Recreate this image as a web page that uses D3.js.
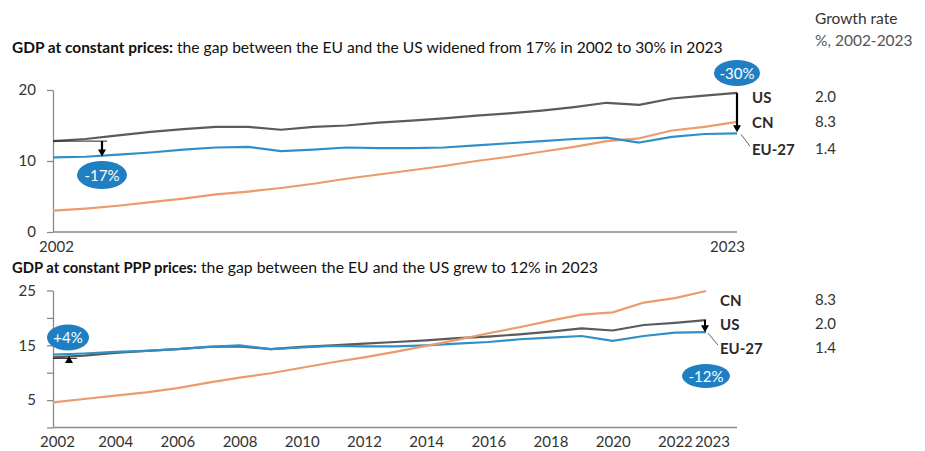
<!DOCTYPE html>
<html><head><meta charset="utf-8">
<script src="https://cdn.jsdelivr.net/npm/d3@7"></script>
<style>
body{margin:0;background:#fff;}
svg{font-family:Lato,"Open Sans",sans-serif;}
</style></head>
<body><svg id="c" width="925" height="451"></svg>
<script>
const years = d3.range(2002, 2024);
// GDP at constant prices (USD trillion)
const usConst = [12.8,13.1,13.6,14.1,14.5,14.8,14.8,14.4,14.8,15.0,15.4,15.7,16.0,16.4,16.7,17.1,17.6,18.2,17.9,18.8,19.2,19.6];
const euConst = [10.5,10.6,10.9,11.2,11.6,11.9,12.0,11.4,11.6,11.9,11.8,11.8,11.9,12.2,12.5,12.8,13.1,13.3,12.6,13.4,13.8,13.9];
const cnConst = [3.0,3.3,3.7,4.2,4.7,5.3,5.7,6.2,6.8,7.5,8.1,8.7,9.3,10.0,10.6,11.3,12.0,12.8,13.2,14.3,14.8,15.5];
// GDP at constant PPP prices
const usPPP = [12.8,13.1,13.6,14.0,14.3,14.7,14.8,14.3,14.7,15.0,15.3,15.6,15.9,16.3,16.6,17.0,17.5,18.1,17.7,18.7,19.1,19.6];
const euPPP = [13.3,13.5,13.8,14.0,14.3,14.7,15.0,14.3,14.6,14.9,14.8,14.8,15.0,15.3,15.6,16.1,16.4,16.7,15.8,16.7,17.3,17.4];
const cnPPP = [4.6,5.2,5.8,6.4,7.2,8.2,9.1,9.9,10.9,11.9,12.8,13.8,14.9,16.0,17.2,18.3,19.5,20.6,21.0,22.8,23.6,24.9];
const growthLabels = ["US","CN","EU-27"];
const growthRates = {"US":"2.0","CN":"8.3","EU-27":"1.4"};
const topTicks = [0,10,20];
const botTicks = [0,5,10,15,20,25];
const botLabeled = [5,15,25];
const botYearTicks = [2002,2004,2006,2008,2010,2012,2014,2016,2018,2020,2022,2023];

const C = {us:"#5b5b5b", eu:"#2f90c8", cn:"#ec9b6c", axis:"#8a8a8a", text:"#2a2a2a", bubble:"#1f7fc2"};
const svg = d3.select("#c");

function fit(sel, w){
  const n = sel.node(); const base = +sel.attr("font-size");
  const L = n.getComputedTextLength();
  if (L > 0) sel.attr("font-size", (base * w / L).toFixed(2));
}
function title(y, bold, rest, wb, wr){
  const t = svg.append("text").attr("x",12).attr("y",y).attr("fill","#111");
  const b = t.append("tspan").attr("font-weight","bold").attr("font-size",15).text(bold);
  const r = t.append("tspan").attr("font-size",15).text(rest);
  fit(b, wb); fit(r, wr);
}
title(53,"GDP at constant prices:"," the gap between the EU and the US widened from 17% in 2002 to 30% in 2023", 161, 550);
title(273,"GDP at constant PPP prices:"," the gap between the EU and the US grew to 12% in 2023", 185, 401);

svg.append("text").attr("x",815).attr("y",24).attr("font-size",15.5).attr("fill","#333").text("Growth rate");
svg.append("text").attr("x",815).attr("y",46).attr("font-size",15.5).attr("fill","#555").text("%, 2002-2023");

function panel(cfg){
  const x = d3.scaleLinear().domain([2002,2023]).range(cfg.xr);
  const y = d3.scaleLinear().domain(cfg.yd).range(cfg.yr);
  const g = svg.append("g");
  const ya = g.append("g").attr("transform",`translate(${cfg.xr[0]},0)`)
    .call(d3.axisLeft(y).tickValues(cfg.yticks).tickSize(6).tickSizeOuter(0).tickPadding(11)
      .tickFormat(d => cfg.ylab.includes(d) ? d : ""));
  ya.selectAll("path,line").attr("stroke",C.axis).attr("stroke-width",1.3);
  ya.selectAll("text").attr("font-size",15).attr("fill","#333").attr("font-family","Lato,sans-serif");
  g.append("line").attr("x1",cfg.xr[0]).attr("x2",737).attr("y1",cfg.yr[0]).attr("y2",cfg.yr[0])
    .attr("stroke",C.axis).attr("stroke-width",1.5);
  const xa = g.append("g").attr("transform",`translate(0,${cfg.yr[0]})`)
    .call(d3.axisBottom(x).tickValues(cfg.xticks).tickSize(0).tickPadding(cfg.xpad).tickFormat(d3.format("d")));
  xa.select(".domain").remove();
  xa.selectAll("text").attr("font-size",15).attr("fill","#333").attr("font-family","Lato,sans-serif")
    .attr("dx", d => cfg.xdx(d));
  const line = d3.line().x((d,i)=>x(years[i])).y(d=>y(d));
  cfg.order.forEach(s => {
    g.append("path").datum(s.data).attr("d",line).attr("fill","none")
      .attr("stroke",s.color).attr("stroke-width",2.2).attr("stroke-linejoin","round");
  });
  return {x,y,g};
}

// ---------- top panel ----------
const T = panel({xr:[53,737], yd:[0,20], yr:[232,90], yticks:topTicks, ylab:topTicks,
  xticks:[2002,2023], xpad:9, xdx:d => d===2002 ? 3 : -10,
  order:[{data:usConst,color:C.us},{data:cnConst,color:C.cn},{data:euConst,color:C.eu}]});

function arrowDown(x, y1, y2, w){
  svg.append("line").attr("x1",x).attr("x2",x).attr("y1",y1).attr("y2",y2-6)
    .attr("stroke","#000").attr("stroke-width",w);
  svg.append("path").attr("d",`M${x-4},${y2-7}L${x+4},${y2-7}L${x},${y2}Z`).attr("fill","#000");
}
function bubble(cx, cy, rx, ry, txt){
  svg.append("ellipse").attr("cx",cx).attr("cy",cy).attr("rx",rx).attr("ry",ry).attr("fill",C.bubble);
  svg.append("text").attr("x",cx).attr("y",cy+5.5).attr("text-anchor","middle")
    .attr("font-size",15).attr("fill","#fff").text(txt);
}
svg.append("line").attr("x1",53).attr("x2",107).attr("y1",T.y(usConst[0])).attr("y2",T.y(usConst[0]))
  .attr("stroke","#222").attr("stroke-width",1);
arrowDown(102, T.y(usConst[0]), T.y(euConst[0])-1, 2.2);
bubble(102, 175, 25, 14, "-17%");
arrowDown(737, T.y(usConst[21]), T.y(euConst[21])-1, 2.2);
bubble(737, 73, 23, 13, "-30%");
svg.append("line").attr("x1",741).attr("x2",750).attr("y1",T.y(euConst[21])+1).attr("y2",T.y(euConst[21])+13)
  .attr("stroke","#666").attr("stroke-width",1);

growthLabels.forEach((k,i)=>{
  const yy = [103,128,155][i];
  svg.append("text").attr("x",752).attr("y",yy).attr("font-size",15).attr("font-weight","bold").attr("fill",C.text).text(k);
  svg.append("text").attr("x",815).attr("y",yy-1).attr("font-size",15).attr("fill","#333").text(growthRates[k]);
});

// ---------- bottom panel ----------
const B = panel({xr:[53,706], yd:[0,25], yr:[427.5,290.5], yticks:botTicks, ylab:botLabeled,
  xticks:botYearTicks, xpad:9, xdx:d => d===2023 ? 6 : (d===2002 ? 4 : 0),
  order:[{data:usPPP,color:C.us},{data:euPPP,color:C.eu},{data:cnPPP,color:C.cn}]});

svg.append("line").attr("x1",53).attr("x2",77).attr("y1",B.y(usPPP[0])+1).attr("y2",B.y(usPPP[0])+1)
  .attr("stroke","#222").attr("stroke-width",1);
svg.append("path").attr("d",`M${69-4},363L${69+4},363L69,356Z`).attr("fill","#000");
bubble(68, 337.5, 21, 13, "+4%");
arrowDown(705, B.y(usPPP[21]), B.y(euPPP[21]), 2);
bubble(706, 376, 24, 12, "-12%");
svg.append("line").attr("x1",708).attr("x2",718).attr("y1",B.y(euPPP[21])+1).attr("y2",B.y(euPPP[21])+13)
  .attr("stroke","#666").attr("stroke-width",1);
[["CN",306,"8.3"],["US",330,"2.0"],["EU-27",354,"1.4"]].forEach(([k,yy,v])=>{
  svg.append("text").attr("x",720).attr("y",yy).attr("font-size",15).attr("font-weight","bold").attr("fill",C.text).text(k);
  svg.append("text").attr("x",815).attr("y",yy-1).attr("font-size",15).attr("fill","#333").text(v);
});
</script></body></html>
